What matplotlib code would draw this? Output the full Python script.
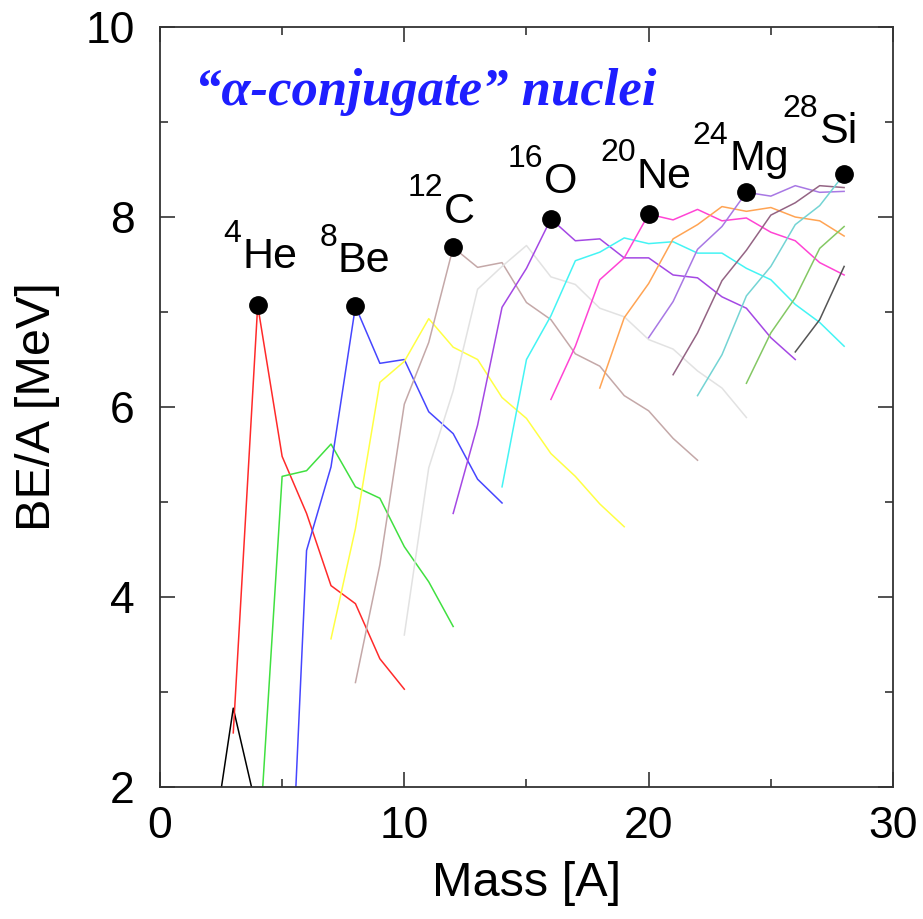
import numpy as np
import matplotlib.pyplot as plt
from matplotlib.ticker import MultipleLocator

plt.rcParams['font.family'] = ['Liberation Sans', 'DejaVu Sans']

# binding energy per nucleon [MeV] for each isotopic chain
elements = ['H', 'He', 'Li', 'Be', 'B', 'C', 'N', 'O', 'F', 'Ne', 'Na', 'Mg', 'Al', 'Si', 'P', 'S']
first_A = [2, 3, 4, 5, 7, 8, 10, 12, 14, 16, 18, 20, 21, 22, 24, 26]
be_per_a = [
    [1.11, 2.83, 1.72],
    [2.57, 7.07, 5.48, 4.88, 4.12, 3.93, 3.35, 3.03],
    [1.15, 5.27, 5.33, 5.61, 5.16, 5.04, 4.53, 4.16, 3.69],
    [-1.2, 4.49, 5.37, 7.06, 6.46, 6.50, 5.95, 5.72, 5.24, 4.99],
    [3.56, 4.72, 6.26, 6.48, 6.93, 6.63, 6.50, 6.10, 5.88, 5.51, 5.27, 4.98, 4.74],
    [3.10, 4.34, 6.03, 6.68, 7.68, 7.47, 7.52, 7.10, 6.92, 6.56, 6.43, 6.12, 5.96, 5.67, 5.44],
    [3.60, 5.36, 6.17, 7.24, 7.48, 7.70, 7.37, 7.29, 7.04, 6.95, 6.71, 6.61, 6.38, 6.20, 5.89],
    [4.88, 5.81, 7.05, 7.46, 7.98, 7.75, 7.77, 7.57, 7.57, 7.39, 7.36, 7.16, 7.04, 6.73, 6.50],
    [5.16, 6.50, 6.96, 7.54, 7.63, 7.78, 7.72, 7.74, 7.62, 7.62, 7.46, 7.34, 7.08, 6.89, 6.64],
    [6.08, 6.64, 7.34, 7.57, 8.03, 7.97, 8.08, 7.96, 7.99, 7.84, 7.75, 7.52, 7.39],
    [6.20, 6.94, 7.30, 7.77, 7.92, 8.11, 8.06, 8.10, 8.00, 7.96, 7.80],
    [6.73, 7.11, 7.66, 7.90, 8.26, 8.22, 8.33, 8.26, 8.27],
    [6.34, 6.78, 7.33, 7.65, 8.02, 8.15, 8.33, 8.31],
    [6.12, 6.55, 7.17, 7.48, 7.92, 8.12, 8.45],
    [6.25, 6.78, 7.15, 7.67, 7.90],
    [6.58, 6.92, 7.48],
]
colors = ['#000000', '#ff2a2a', '#40e040', '#4646ff', '#ffff44', '#c4a8a8',
          '#e2e2e2', '#a448e4', '#44f4f4', '#ff44d4', '#ffa454', '#a878e4',
          '#946484', '#74d4d4', '#84c864', '#555555']

# alpha-conjugate nuclei
alpha_A = [4, 8, 12, 16, 20, 24, 28]
alpha_be = [7.07, 7.06, 7.68, 7.98, 8.03, 8.26, 8.45]
alpha_mass = ['4', '8', '12', '16', '20', '24', '28']
alpha_sym = ['He', 'Be', 'C', 'O', 'Ne', 'Mg', 'Si']
# where each label sits (split point between mass number and symbol, baseline)
label_x = [3.36, 7.28, 11.63, 15.72, 19.5, 23.29, 26.97]
label_y = [7.46, 7.42, 7.94, 8.25, 8.31, 8.49, 8.78]

fig = plt.figure(figsize=(9.23, 9.19), dpi=100)
ax = fig.add_axes([0.1733, 0.1436, 0.7942, 0.827])

for i in range(len(elements)):
    A = np.arange(first_A[i], first_A[i] + len(be_per_a[i]))
    ax.plot(A, be_per_a[i], color=colors[i], lw=1.1, zorder=2)

ax.plot(alpha_A, alpha_be, 'o', color='black', ms=12.5, zorder=4, ls='none')
for i in range(len(alpha_A)):
    ax.text(label_x[i], label_y[i], alpha_sym[i], fontsize=31,
            ha='left', va='baseline', zorder=5)
    ax.annotate(alpha_mass[i], xy=(label_x[i], label_y[i]), xytext=(-0.5, 19),
                textcoords='offset points', fontsize=23, ha='right', va='baseline', zorder=5)

ax.text(0.048, 0.897, '\u201c\u03b1-conjugate\u201d nuclei', transform=ax.transAxes,
        fontsize=38, family='Liberation Serif', style='italic', weight='bold',
        color='#1e1eff', va='baseline', ha='left')

ax.set_xlim(0, 30)
ax.set_ylim(2, 10)
ax.xaxis.set_major_locator(MultipleLocator(10))
ax.xaxis.set_minor_locator(MultipleLocator(5))
ax.yaxis.set_major_locator(MultipleLocator(2))
ax.yaxis.set_minor_locator(MultipleLocator(1))
ax.tick_params(which='both', direction='in', top=True, right=True, color='#333333', width=1.2)
ax.tick_params(which='major', length=11, labelsize=32, pad=14)
ax.tick_params(axis='y', which='major', pad=18)
ax.tick_params(which='minor', length=6)
for sp in ax.spines.values():
    sp.set_color('#333333')
    sp.set_linewidth(1.3)

ax.set_xlabel('Mass [A]', fontsize=35)
ax.set_ylabel('BE/A [MeV]', fontsize=35)
ax.xaxis.set_label_coords(0.5, -0.097)
ax.yaxis.set_label_coords(-0.136, 0.5)

fig.savefig('out.png', dpi=100)
